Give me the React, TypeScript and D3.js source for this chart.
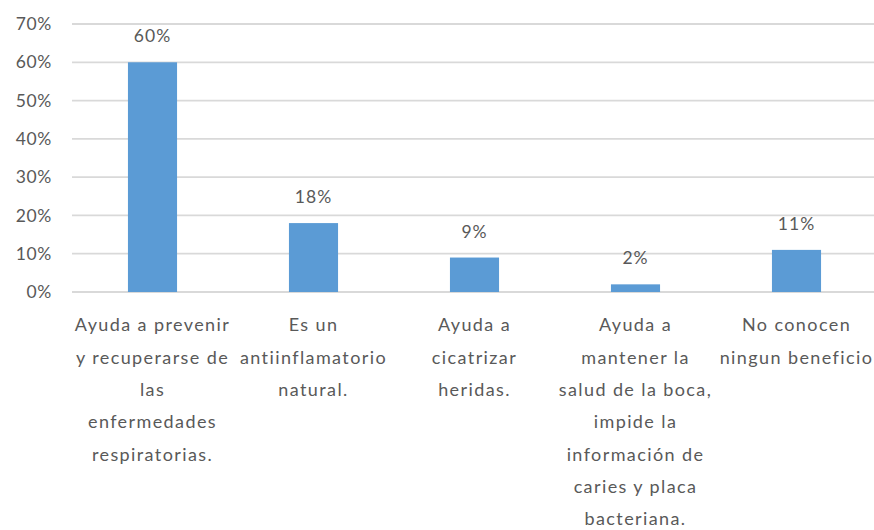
import React from 'react'
import * as d3 from 'd3'

const categories = [
  ['Ayuda a prevenir', 'y recuperarse de', 'las', 'enfermedades', 'respiratorias.'],
  ['Es un', 'antiinflamatorio', 'natural.'],
  ['Ayuda a', 'cicatrizar', 'heridas.'],
  ['Ayuda a', 'mantener la', 'salud de la boca,', 'impide la', 'información de', 'caries y placa', 'bacteriana.'],
  ['No conocen', 'ningun beneficio'],
]
const values = [60, 18, 9, 2, 11]
const yTicks = [0, 10, 20, 30, 40, 50, 60, 70]

const W = 874
const H = 530
const left = 72
const right = 877
const top = 24
const bottom = 292
const font = 'Lato, "Open Sans", sans-serif'
const textColor = '#595959'

export default function App() {
  const x = d3
    .scaleBand<number>()
    .domain(d3.range(values.length))
    .range([left, right])
    .paddingInner(0.695)
    .paddingOuter(0.3475)
  const y = d3.scaleLinear().domain([0, 70]).range([bottom, top])

  return (
    <svg
      width={W}
      height={H}
      style={{ position: 'absolute', left: 0, top: 0, background: '#fff' }}
      fontFamily={font}
    >
      {yTicks.map((t) => (
        <g key={t}>
          <line x1={left} x2={W} y1={y(t)} y2={y(t)} stroke="#d9d9d9" strokeWidth={1.8} />
          <text
            x={52}
            y={y(t)}
            dy="0.35em"
            textAnchor="end"
            fontSize={17.5}
            letterSpacing={0.6}
            fill={textColor}
          >
            {t}%
          </text>
        </g>
      ))}

      {values.map((v, i) => (
        <g key={i}>
          <rect
            x={x(i)}
            y={y(v)}
            width={x.bandwidth()}
            height={bottom - y(v)}
            fill="#5b9bd5"
          />
          <text
            x={x(i)! + x.bandwidth() / 2}
            y={y(v) - 26}
            dy="0.35em"
            textAnchor="middle"
            fontSize={17.5}
            letterSpacing={1}
            fill={textColor}
          >
            {v}%
          </text>
        </g>
      ))}

      {categories.map((lines, i) => (
        <text
          key={i}
          x={x(i)! + x.bandwidth() / 2}
          textAnchor="middle"
          fontSize={18}
          letterSpacing={1.4}
          fill={textColor}
        >
          {lines.map((l, j) => (
            <tspan key={j} x={x(i)! + x.bandwidth() / 2} y={325 + j * 32.3} dy="0.35em">
              {l}
            </tspan>
          ))}
        </text>
      ))}
    </svg>
  )
}
